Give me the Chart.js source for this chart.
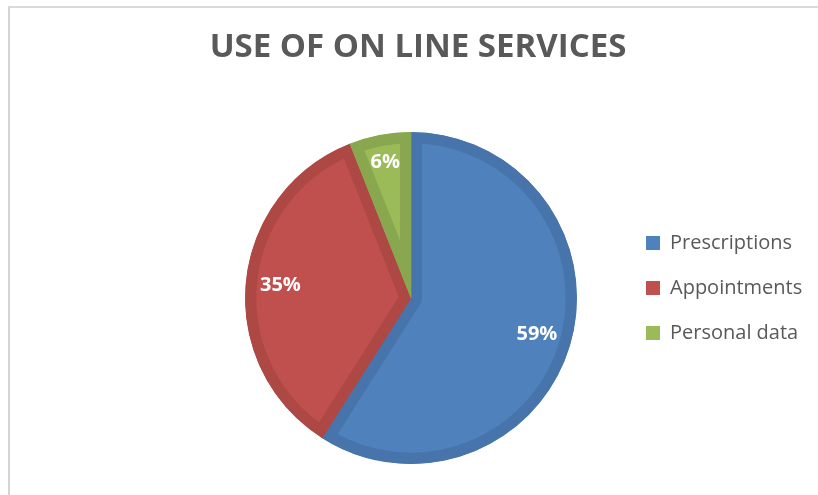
<!DOCTYPE html>
<html>
<head>
<meta charset="utf-8">
<script src="https://cdn.jsdelivr.net/npm/chart.js@4"></script>
<style>
  html, body { margin: 0; padding: 0; background: #fff; }
  #wrap { position: relative; width: 818px; height: 495px; overflow: hidden; }
  #frame {
    position: absolute; left: 8px; top: 6px; right: -4px; bottom: -4px;
    border-top: 2px solid #dadada; border-left: 2px solid #d4d4d4;
  }
  canvas { position: absolute; left: 0; top: 0; }
</style>
</head>
<body>
<div id="wrap">
  <div id="frame"></div>
  <canvas id="chart" width="818" height="495"></canvas>
</div>
<script>
const categories = ['Prescriptions', 'Appointments', 'Personal data'];
const shares = [59, 35, 6];
const fillColors = ['#4f81bd', '#c0504d', '#9bbb59'];
const edgeColors = ['#4774ab', '#ad4845', '#89a74e'];

// percentage labels inside each slice
const sliceLabels = {
  id: 'sliceLabels',
  afterDatasetsDraw(chart) {
    const ctx = chart.ctx;
    const arcs = chart.getDatasetMeta(0).data;
    ctx.save();
    ctx.font = 'bold 20px "Open Sans"';
    ctx.fillStyle = '#ffffff';
    ctx.textAlign = 'center';
    ctx.textBaseline = 'middle';
    arcs.forEach((arc, i) => {
      const p = arc.getProps(['x', 'y', 'startAngle', 'endAngle', 'outerRadius'], true);
      const mid = (p.startAngle + p.endAngle) / 2;
      const r = p.outerRadius * (shares[i] < 10 ? 0.83 : 0.79);
      ctx.fillText(shares[i] + '%', p.x + Math.cos(mid) * r, p.y + Math.sin(mid) * r);
    });
    ctx.restore();
  }
};

// move title and legend blocks once the chart area is fixed
const blockPlace = {
  id: 'blockPlace',
  afterLayout(chart) {
    const t = chart.titleBlock;
    t.left -= 73;
    t.right -= 73;

    const lg = chart.legend;
    const h = lg.height;
    lg.left = 621;
    lg.right = chart.width;
    lg.width = lg.right - lg.left;
    lg.top = 208;
    lg.bottom = lg.top + h;
  }
};

new Chart(document.getElementById('chart'), {
  type: 'pie',
  data: {
    labels: categories,
    datasets: [{
      data: shares,
      backgroundColor: fillColors,
      borderColor: edgeColors,
      borderWidth: 11,
      borderAlign: 'inner'
    }]
  },
  options: {
    responsive: false,
    animation: false,
    layout: { padding: { left: 164, right: 0, top: 0, bottom: 31 } },
    plugins: {
      title: {
        display: true,
        text: 'USE OF ON LINE SERVICES',
        color: '#595959',
        font: { family: '"Open Sans"', size: 33, weight: 'bold' },
        padding: { top: 28, bottom: 64.4 }
      },
      legend: {
        position: 'right',
        align: 'start',
        maxWidth: 160,
        labels: {
          color: '#595959',
          font: { family: '"Open Sans"', size: 20 },
          boxWidth: 14,
          boxHeight: 14,
          padding: 25,
          generateLabels(chart) {
            const base = Chart.overrides.pie.plugins.legend.labels.generateLabels(chart);
            return base.map(item => Object.assign(item, { lineWidth: 0, strokeStyle: item.fillStyle }));
          }
        }
      },
      tooltip: { enabled: false }
    }
  },
  plugins: [sliceLabels, blockPlace]
});
</script>
</body>
</html>
